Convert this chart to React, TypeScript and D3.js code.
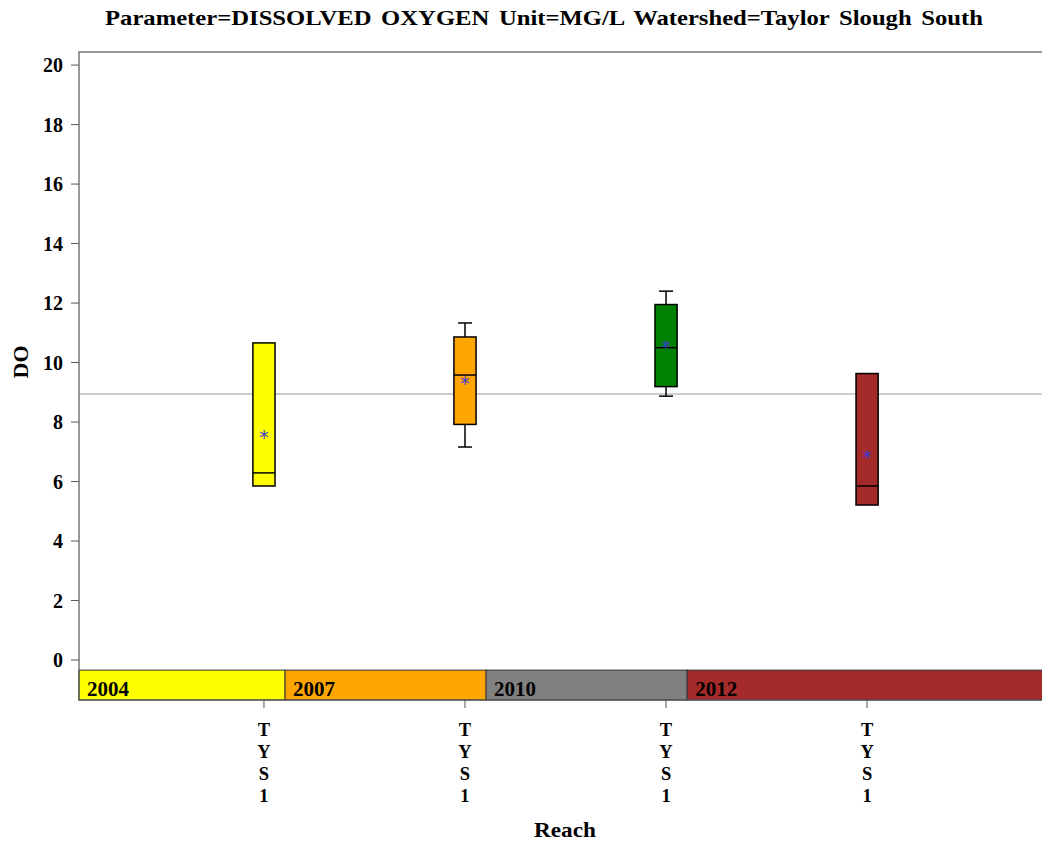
import React from "react";
import * as d3 from "d3";

const years = ["2004", "2007", "2010", "2012"];
const reachLabels = ["TYS1", "TYS1", "TYS1", "TYS1"];
const boxColors = ["#ffff00", "#ffa500", "#008000", "#a52a2a"];
const bandColors = ["#ffff00", "#ffa500", "#808080", "#a52a2a"];
const minVals = [5.85, 7.16, 8.87, 5.21];
const q1Vals = [5.85, 7.92, 9.19, 5.21];
const medianVals = [6.29, 9.58, 10.5, 5.85];
const q3Vals = [10.66, 10.86, 11.95, 9.63];
const maxVals = [10.66, 11.33, 12.4, 9.63];
const meanVals = [7.56, 9.38, 10.59, 6.89];
const refLine = 8.94;
const yTicks = [0, 2, 4, 6, 8, 10, 12, 14, 16, 18, 20];

const W = 1042;
const H = 844;
const left = 79;
const right = 1046;
const top = 52;
const bottom = 700;
const font = "'Liberation Serif', 'Times New Roman', serif";

export default function App() {
  const y = d3.scaleLinear().domain([-1.345, 20.44]).range([bottom, top]);
  const x = d3.scaleLinear().domain([-0.92, 3.89]).range([left, right]);
  const step = x(1) - x(0);
  const boxHalf = step * 0.055;
  const capHalf = step * 0.035;
  const bandTop = y(-0.34);
  const bandEdge = (i: number) => (i === 0 ? left : x(i - 1) + step * 0.105);

  return (
    <svg width={W} height={H} style={{ display: "block", position: "absolute", left: 0, top: 0 }} fontFamily={font}>
      <rect x={0} y={0} width={W} height={H} fill="#fff" />
      <text x={105} y={25} fontSize={21} fontWeight="bold" wordSpacing={3} textLength={878} lengthAdjust="spacingAndGlyphs">
        Parameter=DISSOLVED OXYGEN Unit=MG/L Watershed=Taylor Slough South
      </text>
      {/* reference line */}
      <line x1={left} x2={right} y1={y(refLine)} y2={y(refLine)} stroke="#bdbdbd" strokeWidth={1.5} />
      {/* y axis ticks */}
      {yTicks.map((t) => (
        <g key={t}>
          <line x1={left - 8} x2={left} y1={y(t)} y2={y(t)} stroke="#555" strokeWidth={1} />
          <text x={left - 16} y={y(t) + 7} textAnchor="end" fontSize={20} fontWeight="bold">
            {t}
          </text>
        </g>
      ))}
      {/* boxes */}
      {years.map((yr, i) => {
        const cx = x(i);
        return (
          <g key={yr}>
            {maxVals[i] > q3Vals[i] && (
              <>
                <line x1={cx} x2={cx} y1={y(maxVals[i])} y2={y(q3Vals[i])} stroke="#000" strokeWidth={1.5} />
                <line x1={cx - capHalf} x2={cx + capHalf} y1={y(maxVals[i])} y2={y(maxVals[i])} stroke="#000" strokeWidth={1.5} />
              </>
            )}
            {minVals[i] < q1Vals[i] && (
              <>
                <line x1={cx} x2={cx} y1={y(q1Vals[i])} y2={y(minVals[i])} stroke="#000" strokeWidth={1.5} />
                <line x1={cx - capHalf} x2={cx + capHalf} y1={y(minVals[i])} y2={y(minVals[i])} stroke="#000" strokeWidth={1.5} />
              </>
            )}
            <rect
              x={cx - boxHalf}
              y={y(q3Vals[i])}
              width={boxHalf * 2}
              height={y(q1Vals[i]) - y(q3Vals[i])}
              fill={boxColors[i]}
              stroke="#000"
              strokeWidth={1.5}
            />
            <line x1={cx - boxHalf} x2={cx + boxHalf} y1={y(medianVals[i])} y2={y(medianVals[i])} stroke="#000" strokeWidth={1.5} />
            <text x={cx} y={y(meanVals[i]) + 9} textAnchor="middle" fontSize={19} fill="#3a3ad0" fontFamily="'DejaVu Sans', sans-serif">
              *
            </text>
          </g>
        );
      })}
      {/* year band */}
      {years.map((yr, i) => {
        const x0 = bandEdge(i);
        const x1 = i === years.length - 1 ? right : bandEdge(i + 1);
        return (
          <g key={"b" + yr}>
            <rect x={x0} y={bandTop} width={x1 - x0} height={bottom - bandTop} fill={bandColors[i]} stroke="#333" strokeWidth={1} />
            <text x={x0 + 8} y={bottom - 4} fontSize={21} fontWeight="bold" textLength={42} lengthAdjust="spacingAndGlyphs">
              {yr}
            </text>
          </g>
        );
      })}
      {/* frame */}
      <rect x={left} y={top} width={right - left} height={bottom - top} fill="none" stroke="#555" strokeWidth={1.2} />
      {/* x ticks and labels */}
      {reachLabels.map((lab, i) => (
        <g key={"x" + i}>
          <line x1={x(i)} x2={x(i)} y1={bottom} y2={bottom + 8} stroke="#555" strokeWidth={1} />
          {lab.split("").map((ch, j) => (
            <text key={j} x={x(i)} y={736 + j * 22} textAnchor="middle" fontSize={18.5} fontWeight="bold">
              {ch}
            </text>
          ))}
        </g>
      ))}
      <text x={565} y={837} textAnchor="middle" fontSize={22} fontWeight="bold" textLength={62} lengthAdjust="spacingAndGlyphs">
        Reach
      </text>
      <text transform={`translate(28, ${362}) rotate(-90)`} textAnchor="middle" fontSize={22} fontWeight="bold">
        DO
      </text>
    </svg>
  );
}
